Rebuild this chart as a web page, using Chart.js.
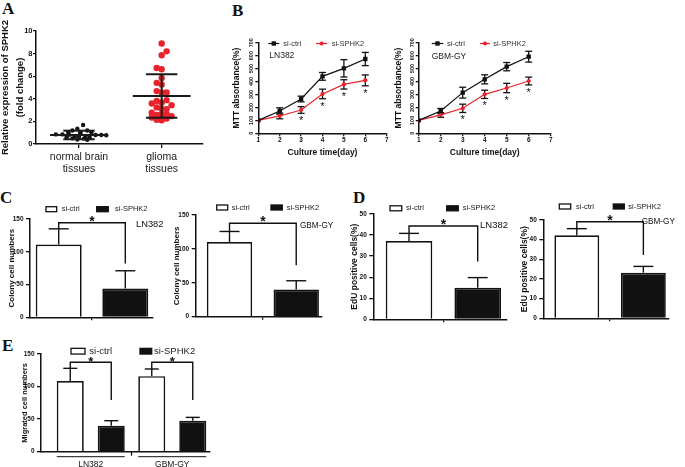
<!DOCTYPE html>
<html><head><meta charset="utf-8">
<script src="https://cdn.jsdelivr.net/npm/chart.js@4.4.1/dist/chart.umd.min.js"></script>
<style>
html,body{margin:0;padding:0;background:#fff;width:685px;height:467px;overflow:hidden;position:relative}
canvas{position:absolute;left:0;top:0}
.pl{position:absolute;font:bold 17px "Liberation Serif","Times New Roman",serif;line-height:1;color:#111}
</style></head><body>
<div class="pl" style="left:2px;top:0px">A</div>
<div class="pl" style="left:232px;top:2px">B</div>
<div class="pl" style="left:0px;top:189px">C</div>
<div class="pl" style="left:353px;top:189px">D</div>
<div class="pl" style="left:2px;top:337px">E</div>
<canvas id="cA" width="685" height="467"></canvas>
<canvas id="cB1" width="685" height="467"></canvas>
<canvas id="cB2" width="685" height="467"></canvas>
<canvas id="cC1" width="685" height="467"></canvas>
<canvas id="cC2" width="685" height="467"></canvas>
<canvas id="cD1" width="685" height="467"></canvas>
<canvas id="cD2" width="685" height="467"></canvas>
<canvas id="cE" width="685" height="467"></canvas>
<script>
// ---------------- DATA ----------------
// Panel A
const tissueLabels = [['normal brain', 'tissues'], ['glioma', 'tissues']];
const normalValues = [1.68, 1.35, 1.2, 1.2, 1.05, 1.0, 1.05, 0.85, 0.85, 0.82, 0.8, 0.8, 0.78, 0.7, 0.7, 0.6, 0.58, 0.62, 0.5, 0.48, 0.4, 0.38];
const normalJitter = [0.05, -0.02, -0.08, 0.1, -0.13, 0.02, 0.15, -0.28, -0.2, -0.12, 0.2, 0.27, 0.33, -0.05, 0.08, -0.15, 0.13, 0.0, -0.08, 0.06, -0.02, 0.1];
const gliomaValues = [8.89, 8.2, 7.85, 6.73, 6.62, 5.85, 5.41, 5.27, 4.68, 4.56, 4.56, 3.88, 3.8, 3.68, 3.59, 3.44, 3.24, 3.15, 3.09, 2.76, 2.65, 2.65, 2.56, 2.47, 2.35, 2.3, 2.25, 2.15, 2.1];
const gliomaJitter = [0, 0.06, 0, -0.06, 0, 0, -0.06, 0, -0.06, 0, 0.06, 0.06, -0.06, 0, -0.12, 0.12, -0.06, 0, 0.06, -0.12, 0, 0.06, -0.06, 0.12, -0.12, 0, 0.06, -0.06, 0];
const tissueMeans = [0.80, 4.25];
const tissueSD = [0.38, 1.92];
const aTicks = [0, 2, 4, 6, 8, 10];

// Panel B
const seriesNames = ['si-ctrl', 'si-SPHK2'];
const days = [1, 2, 3, 4, 5, 6];
const dayTicks = [1, 2, 3, 4, 5, 6, 7];
const mttTicks = [0, 100, 200, 300, 400, 500, 600, 700];
const lnCtrl = [100, 172, 265, 440, 502, 574];
const lnCtrlErr = [0, 25, 22, 30, 67, 51];
const lnSph = [100, 134, 180, 304, 378, 409];
const lnSphErr = [0, 22, 26, 37, 36, 42];
const gbCtrl = [100, 172, 314, 417, 515, 592];
const gbCtrlErr = [0, 20, 42, 35, 32, 42];
const gbSph = [100, 142, 193, 301, 350, 404];
const gbSphErr = [0, 18, 32, 32, 36, 30];
const mttSig = [false, false, true, true, true, true];

// Panel C (colony numbers)
const colonyTicks = [0, 50, 100, 150];
const colLnCtrl = [111], colLnCtrlSD = [24], colLnSph = [44], colLnSphSD = [27];
const colGbCtrl = [110], colGbCtrlSD = [15.7], colGbSph = [40], colGbSphSD = [13];

// Panel D (EdU positive %)
const eduTicks = [0, 10, 20, 30, 40, 50];
const eduLnCtrl = [37.2], eduLnCtrlSD = [3.6], eduLnSph = [15], eduLnSphSD = [4.8];
const eduGbCtrl = [42.2], eduGbCtrlSD = [3.4], eduGbSph = [23.2], eduGbSphSD = [3.2];

// Panel E (migration)
const cellLines = ['LN382', 'GBM-GY'];
const migTicks = [0, 50, 100, 150];
const migCtrl = [108.5, 116], migCtrlSD = [19.5, 11];
const migSph = [40, 47.6], migSphSD = [7.6, 5.1];

// ---------------- HELPERS ----------------
const W = 685, H = 467;
const FAMILY = '"Liberation Sans", Arial, Helvetica, sans-serif';
const INK = '#111', RED = '#e8232b';
Chart.defaults.font.family = FAMILY;
Chart.defaults.color = INK;
const AX = {display: true, color: INK, width: 1.5};

function frame(a, yw, xh) { return {padding: {left: a.l - yw, top: a.t, right: W - a.r, bottom: H - a.b - xh}}; }
function fixW(w) { return s => { s.width = w; }; }
function fixH(h) { return s => { s.height = h; }; }
function setTicks(vals) { return s => { s.ticks = vals.map(v => ({value: v})); }; }
function fnt(size, weight) { return (weight ? weight + ' ' : '') + size + 'px ' + FAMILY; }
function seg(c, x1, y1, x2, y2) { c.beginPath(); c.moveTo(x1, y1); c.lineTo(x2, y2); c.stroke(); }

function textPlugin(id, items) {
  return {id, afterDraw(chart) {
    const c = chart.ctx; c.save();
    items.forEach(t => { c.font = fnt(t.size, t.weight); c.fillStyle = t.color || INK; c.textAlign = t.align || 'left'; c.textBaseline = 'middle'; c.fillText(t.text, t.x, t.y); });
    c.restore();
  }};
}

// ---------------- PANEL A ----------------
new Chart(document.getElementById('cA'), {
  type: 'scatter',
  data: {datasets: [
    {label: 'normal brain tissues', data: normalValues.map((v, i) => ({x: 1 + normalJitter[i], y: v})), backgroundColor: INK, borderColor: INK, pointRadius: 2.2, pointBorderWidth: 0},
    {label: 'glioma tissues', data: gliomaValues.map((v, i) => ({x: 2 + gliomaJitter[i], y: v})), backgroundColor: RED, borderColor: RED, pointRadius: 3.2, pointBorderWidth: 0}
  ]},
  options: {
    responsive: false, animation: false,
    layout: frame({l: 36, t: 31, r: 203, b: 144}, 36, 56),
    plugins: {legend: {display: false}, tooltip: {enabled: false}},
    scales: {
      x: {type: 'linear', min: 0.48, max: 2.5, afterBuildTicks: setTicks([1, 2]), afterFit: fixH(56),
        ticks: {callback: v => tissueLabels[Math.round(v) - 1], font: {size: 10.5, lineHeight: 1.12}, color: '#222', padding: 3, maxRotation: 0, autoSkip: false},
        grid: {drawOnChartArea: false, tickLength: 4, color: INK, lineWidth: 1.3}, border: AX},
      y: {min: 0, max: 10, afterBuildTicks: setTicks(aTicks), afterFit: fixW(36),
        ticks: {font: {size: 7.5, weight: 'bold'}, padding: 0.5, color: INK},
        grid: {drawOnChartArea: false, tickLength: 3, color: INK, lineWidth: 1.3}, border: AX,
        title: {display: true, text: ['Relative expression of SPHK2', '(fold change)'], font: {size: 9.5, weight: 'bold', lineHeight: 1.6}, padding: {top: -2, bottom: 0}, color: INK}}
    }
  },
  plugins: [{id: 'meanSd', afterDatasetsDraw(chart) {
    const c = chart.ctx, x = chart.scales.x, y = chart.scales.y;
    c.save(); c.strokeStyle = '#1a1a1a'; c.lineWidth = 2;
    tissueMeans.forEach((m, i) => {
      const cx = x.getPixelForValue(i + 1);
      const hw = x.getPixelForValue(i + 1.35) - cx, cw = x.getPixelForValue(i + 1.19) - cx;
      const ym = y.getPixelForValue(m), yt = y.getPixelForValue(m + tissueSD[i]), yb = y.getPixelForValue(m - tissueSD[i]);
      seg(c, cx - hw, ym, cx + hw, ym); seg(c, cx - cw, yt, cx + cw, yt); seg(c, cx - cw, yb, cx + cw, yb); seg(c, cx, yt, cx, yb);
    });
    c.restore();
  }}]
});

// ---------------- PANEL B ----------------
function mttChart(id, area, ctrl, ctrlErr, sph, sphErr, legend, note, yTitleX) {
  const yw = 28, xh = 24.5;
  return new Chart(document.getElementById(id), {
    type: 'line',
    data: {datasets: [
      {label: seriesNames[0], data: days.map((d, i) => ({x: d, y: ctrl[i]})), borderColor: INK, backgroundColor: INK, borderWidth: 1.2, pointStyle: 'rect', pointRadius: 3.1, pointBorderWidth: 0},
      {label: seriesNames[1], data: days.map((d, i) => ({x: d, y: sph[i]})), borderColor: RED, backgroundColor: RED, borderWidth: 1.2, pointStyle: 'circle', pointRadius: 2.1, pointBorderWidth: 0}
    ]},
    options: {
      responsive: false, animation: false,
      layout: frame(area, yw, xh),
      plugins: {legend: {display: false}, tooltip: {enabled: false}},
      scales: {
        x: {type: 'linear', min: 1, max: 7, afterBuildTicks: setTicks(dayTicks), afterFit: fixH(xh),
          ticks: {font: {size: 6.5, weight: 'bold'}, padding: 0.5, color: INK, maxRotation: 0},
          grid: {drawOnChartArea: false, tickLength: 3, color: INK, lineWidth: 1.3}, border: AX,
          title: {display: true, text: 'Culture time(day)', font: {size: 8.5, weight: 'bold'}, padding: {top: 0, bottom: 0}, color: INK}},
        y: {min: 0, max: 700, afterBuildTicks: setTicks(mttTicks), afterFit: fixW(yw),
          ticks: {display: false},
          grid: {drawOnChartArea: false, tickLength: 3, color: INK, lineWidth: 1.3}, border: AX,
          title: {display: true, text: 'MTT absorbance(%)', font: {size: 8.5, weight: 'bold'}, padding: {top: yTitleX - (area.l - yw) - 5.1, bottom: 0}, color: INK}}
      }
    },
    plugins: [
      {id: 'errs', beforeDatasetsDraw(chart) {
        const c = chart.ctx, y = chart.scales.y, errs = [ctrlErr, sphErr];
        c.save(); c.strokeStyle = INK; c.lineWidth = 1.3;
        chart.data.datasets.forEach((ds, di) => {
          chart.getDatasetMeta(di).data.forEach((pt, i) => {
            const e = errs[di][i]; if (!e) return;
            const v = ds.data[i].y, yt = y.getPixelForValue(v + e), yb = y.getPixelForValue(v - e);
            seg(c, pt.x, yt, pt.x, yb); seg(c, pt.x - 3.5, yt, pt.x + 3.5, yt); seg(c, pt.x - 3.5, yb, pt.x + 3.5, yb);
          });
        });
        c.restore();
      }},
      {id: 'stars', afterDraw(chart) {
        const c = chart.ctx, y = chart.scales.y, ds = chart.data.datasets[1];
        c.save(); c.fillStyle = INK; c.font = fnt(11); c.textAlign = 'center'; c.textBaseline = 'alphabetic';
        chart.getDatasetMeta(1).data.forEach((pt, i) => {
          if (!mttSig[i]) return;
          c.fillText('*', pt.x, y.getPixelForValue(ds.data[i].y - sphErr[i]) + 11);
        });
        // rotated y tick labels
        c.font = fnt(5.5, 'bold'); c.fillStyle = '#222'; c.textBaseline = 'middle';
        y.ticks.forEach(t => {
          c.save(); c.translate(y.right - 6.6, y.getPixelForValue(t.value)); c.rotate(-Math.PI / 2); c.fillText(String(t.value), 0, 0); c.restore();
        });
        // legend
        chart.data.datasets.forEach((d, i) => {
          const it = legend[i];
          c.strokeStyle = d.borderColor; c.lineWidth = 1.2; seg(c, it.sx, it.y, it.sx + it.sw, it.y);
          c.fillStyle = d.backgroundColor; const mx = it.sx + it.sw / 2;
          if (d.pointStyle === 'rect') { c.fillRect(mx - 2.2, it.y - 2.2, 4.4, 4.4); } else { c.beginPath(); c.arc(mx, it.y, 2.1, 0, Math.PI * 2); c.fill(); }
          c.fillStyle = '#333'; c.font = fnt(7.5); c.textAlign = 'left'; c.textBaseline = 'middle'; c.fillText(d.label, it.tx, it.y);
        });
        c.font = fnt(8.5); c.fillStyle = '#222'; c.fillText(note.text, note.x, note.y);
        c.restore();
      }}
    ]
  });
}
mttChart('cB1', {l: 258.3, t: 42.7, r: 386.7, b: 133.3}, lnCtrl, lnCtrlErr, lnSph, lnSphErr,
  [{sx: 268.3, sw: 11, tx: 283.3, y: 43.5}, {sx: 316, sw: 11.3, tx: 331.7, y: 43.5}],
  {text: 'LN382', x: 269.3, y: 55.5}, 236.7);
mttChart('cB2', {l: 418.7, t: 42.7, r: 550.7, b: 133.3}, gbCtrl, gbCtrlErr, gbSph, gbSphErr,
  [{sx: 431.7, sw: 11.6, tx: 447, y: 43.5}, {sx: 480, sw: 10, tx: 493.3, y: 43.5}],
  {text: 'GBM-GY', x: 431.7, y: 56.7}, 398.3);

// ---------------- BAR PANELS ----------------
function barChart(id, o) {
  const groups = o.groups;
  return new Chart(document.getElementById(id), {
    type: 'bar',
    data: {datasets: [
      {label: seriesNames[0], data: groups.map((g, i) => ({x: i + 1, y: o.ctrl[i]})), backgroundColor: '#fff', borderColor: INK, borderWidth: 1.7, categoryPercentage: o.cp, barPercentage: o.bp},
      {label: seriesNames[1], data: groups.map((g, i) => ({x: i + 1, y: o.sph[i]})), backgroundColor: INK, borderColor: INK, borderWidth: 1.7, categoryPercentage: o.cp, barPercentage: o.bp}
    ]},
    options: {
      responsive: false, animation: false,
      layout: frame(o.area, o.yw, o.xh),
      plugins: {legend: {display: false}, tooltip: {enabled: false}},
      scales: {
        x: {type: 'linear', offset: false, min: o.xMin, max: o.xMax, afterBuildTicks: setTicks(groups.map((g, i) => i + 1)), afterFit: fixH(o.xh),
          ticks: {display: !!o.showGroups, callback: v => groups[Math.round(v) - 1], font: {size: 8.5}, padding: o.xPad || 3, maxRotation: 0, autoSkip: false, color: INK},
          grid: {display: !o.showGroups, offset: false, drawOnChartArea: false, tickLength: 3, color: INK, lineWidth: 1.3}, border: AX},
        y: {min: 0, max: o.yTicks[o.yTicks.length - 1], afterBuildTicks: setTicks(o.yTicks), afterFit: fixW(o.yw),
          ticks: {font: {size: 6.5, weight: 'bold'}, padding: 2.5, color: INK},
          grid: {drawOnChartArea: false, tickLength: 4, color: INK, lineWidth: 1.3}, border: AX,
          title: {display: true, text: o.yTitle, font: {size: o.tSize, weight: 'bold'}, padding: {top: o.tPad, bottom: 0}, color: INK}}
      }
    },
    plugins: [
      {id: 'barErr', afterDatasetsDraw(chart) {
        const c = chart.ctx, y = chart.scales.y, sds = [o.ctrlSD, o.sphSD];
        c.save(); c.strokeStyle = INK; c.lineWidth = 1.4;
        chart.data.datasets.forEach((ds, di) => {
          chart.getDatasetMeta(di).data.forEach((bar, i) => {
            const yt = y.getPixelForValue(ds.data[i].y + sds[di][i]);
            seg(c, bar.x, bar.y, bar.x, yt); seg(c, bar.x - o.cap, yt, bar.x + o.cap, yt);
          });
        });
        // significance brackets
        const m0 = chart.getDatasetMeta(0).data, m1 = chart.getDatasetMeta(1).data;
        groups.forEach((g, i) => {
          const a = m0[i], d = m1[i];
          const ly = y.getPixelForValue(o.level), ay = y.getPixelForValue(o.ctrl[i] + o.ctrlSD[i]), dy = y.getPixelForValue(o.drop);
          c.beginPath(); c.moveTo(a.x, ay); c.lineTo(a.x, ly); c.lineTo(d.x, ly); c.lineTo(d.x, dy); c.stroke();
          c.fillStyle = INK; c.font = fnt(o.starSize, 'bold'); c.textAlign = 'center'; c.textBaseline = 'alphabetic';
          c.fillText('*', (a.x + d.x) / 2, ly + o.starDy);
        });
        // group underline + separator tick
        if (o.showGroups) {
          const x = chart.scales.x;
          groups.forEach((g, i) => { const a = m0[i], d = m1[i]; c.lineWidth = 1; seg(c, a.x - a.width / 2, o.underY, d.x + d.width / 2, o.underY); });
          c.lineWidth = 1.3;
          for (let i = 1; i < groups.length; i++) { const px = x.getPixelForValue(i + 0.5); seg(c, px, chart.chartArea.bottom, px, chart.chartArea.bottom + 4); }
        }
        c.restore();
      }},
      {id: 'boxLegend', afterDraw(chart) {
        const c = chart.ctx; c.save();
        chart.data.datasets.forEach((ds, i) => {
          const it = o.legend[i];
          c.fillStyle = ds.backgroundColor; c.fillRect(it.sx, it.y - it.sh / 2, it.sw, it.sh);
          c.strokeStyle = INK; c.lineWidth = 1.3; c.strokeRect(it.sx, it.y - it.sh / 2, it.sw, it.sh);
          c.fillStyle = '#222'; c.font = fnt(o.legendSize); c.textAlign = 'left'; c.textBaseline = 'middle'; c.fillText(ds.label, it.tx, it.y);
        });
        c.restore();
      }},
      textPlugin('notes', o.notes || [])
    ]
  });
}

barChart('cC1', {area: {l: 30, t: 219, r: 153, b: 317.3}, yw: 24, xh: 8, xMin: 0, xMax: 1.984, cp: 1.083, bp: 0.69,
  groups: ['LN382'], ctrl: colLnCtrl, ctrlSD: colLnCtrlSD, sph: colLnSph, sphSD: colLnSphSD, yTicks: colonyTicks,
  yTitle: 'Colony cell numbers', tSize: 8, tPad: 0.9, cap: 10, level: 144.3, drop: 82, starSize: 14, starDy: 2.8,
  legend: [{sx: 46, sw: 10.7, sh: 5, tx: 61.7, y: 209.2}, {sx: 96.7, sw: 11.6, sh: 5, tx: 115, y: 209.2}], legendSize: 7.5,
  notes: [{text: 'LN382', x: 136, y: 224.5, size: 9.3}]});

barChart('cC2', {area: {l: 195.7, t: 215, r: 321.7, b: 316.7}, yw: 24, xh: 8, xMin: 0, xMax: 1.876, cp: 1.059, bp: 0.68,
  groups: ['GBM-GY'], ctrl: colGbCtrl, ctrlSD: colGbCtrlSD, sph: colGbSph, sphSD: colGbSphSD, yTicks: colonyTicks,
  yTitle: 'Colony cell numbers', tSize: 8, tPad: 0.2, cap: 10, level: 137.8, drop: 76, starSize: 14, starDy: 3,
  legend: [{sx: 216.7, sw: 11, sh: 5, tx: 231.7, y: 207.5}, {sx: 271, sw: 11.3, sh: 5, tx: 286.7, y: 207.5}], legendSize: 7.5,
  notes: [{text: 'GBM-GY', x: 300, y: 226, size: 8.2}]});

barChart('cD1', {area: {l: 373.3, t: 214, r: 506.7, b: 319.3}, yw: 24, xh: 8, xMin: 0, xMax: 1.904, cp: 1.03, bp: 0.678,
  groups: ['LN382'], ctrl: eduLnCtrl, ctrlSD: eduLnCtrlSD, sph: eduLnSph, sphSD: eduLnSphSD, yTicks: eduTicks,
  yTitle: 'EdU positive cells(%)', tSize: 8.5, tPad: 0.6, cap: 10, level: 44.3, drop: 27.4, starSize: 14, starDy: 2.9,
  legend: [{sx: 390, sw: 11.7, sh: 5, tx: 406, y: 208.3}, {sx: 446.7, sw: 11.6, sh: 5, tx: 462.7, y: 208.3}], legendSize: 7.5,
  notes: [{text: 'LN382', x: 480, y: 225, size: 9.5}]});

barChart('cD2', {area: {l: 543.3, t: 220, r: 669, b: 318.3}, yw: 24, xh: 8, xMin: 0, xMax: 1.882, cp: 1.059, bp: 0.674,
  groups: ['GBM-GY'], ctrl: eduGbCtrl, ctrlSD: eduGbCtrlSD, sph: eduGbSph, sphSD: eduGbSphSD, yTicks: eduTicks,
  yTitle: 'EdU positive cells(%)', tSize: 8.5, tPad: 0.6, cap: 10, level: 49.1, drop: 32.2, starSize: 14, starDy: 3,
  legend: [{sx: 559.3, sw: 11.4, sh: 5, tx: 576, y: 206.5}, {sx: 613.3, sw: 11, sh: 5, tx: 628.3, y: 206.5}], legendSize: 7.5,
  notes: [{text: 'GBM-GY', x: 641.7, y: 222, size: 8.2}]});

barChart('cE', {area: {l: 41, t: 354, r: 210, b: 451.7}, yw: 24, xh: 15.3, xMin: 0.3896, xMax: 2.463, cp: 1.006, bp: 0.659,
  groups: cellLines, ctrl: migCtrl, ctrlSD: migCtrlSD, sph: migSph, sphSD: migSphSD, yTicks: migTicks,
  yTitle: 'Migrated cell numbers', tSize: 7.5, tPad: 3.5, cap: 7, level: 137.3, drop: 79.4, starSize: 13, starDy: 3.6,
  showGroups: true, xPad: 4.9, underY: 456.7,
  legend: [{sx: 71, sw: 14, sh: 5.7, tx: 89.3, y: 351.2}, {sx: 140, sw: 11.7, sh: 5.7, tx: 154, y: 351.2}], legendSize: 9.5});
</script>
</body></html>
